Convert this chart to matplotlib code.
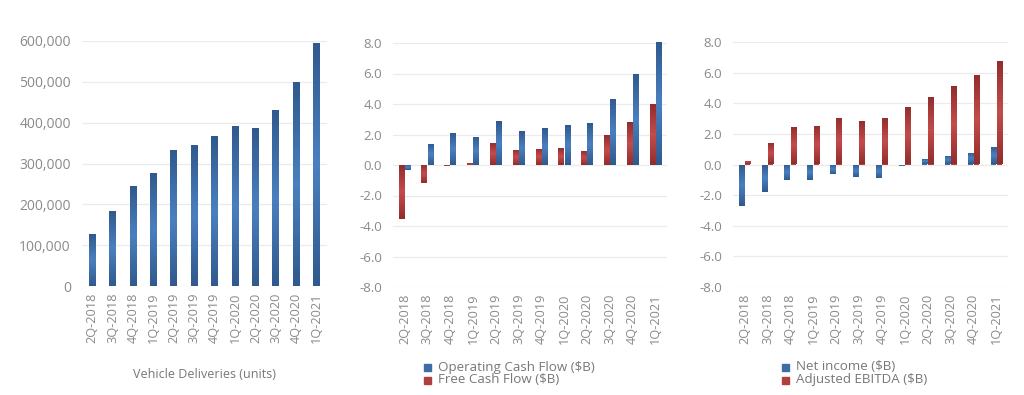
import numpy as np
import matplotlib
matplotlib.use("Agg")
import matplotlib.pyplot as plt
from matplotlib.colors import LinearSegmentedColormap
from matplotlib.ticker import FuncFormatter

quarters = ["2Q-2018", "3Q-2018", "4Q-2018", "1Q-2019", "2Q-2019", "3Q-2019",
            "4Q-2019", "1Q-2020", "2Q-2020", "3Q-2020", "4Q-2020", "1Q-2021"]

# trailing twelve months
deliveries = [126740, 184090, 244920, 277940, 332400, 345900,
              367200, 392600, 388050, 430350, 499550, 595320]
operating_cf = [-0.33, 1.38, 2.09, 1.85, 2.86, 2.22, 2.42, 2.60, 2.73, 4.35, 5.98, 8.04]
free_cf = [-3.51, -1.21, -0.05, 0.10, 1.47, 0.99, 1.08, 1.10, 0.92, 1.95, 2.79, 3.98]
net_income = [-2.70, -1.78, -0.98, -0.98, -0.65, -0.81, -0.85, -0.12, 0.39, 0.56, 0.74, 1.15]
adj_ebitda = [0.26, 1.43, 2.43, 2.54, 3.02, 2.87, 3.02, 3.78, 4.43, 5.15, 5.82, 6.74]

BLUE = "#3d6ca6"
RED = "#b0403f"
blue_cmap = LinearSegmentedColormap.from_list("b", ["#305a8e", "#4a80c0", "#305a8e"])
red_cmap = LinearSegmentedColormap.from_list("r", ["#922d2d", "#c44c4b", "#922d2d"])
GRAY = "#8a8a8a"
FONT = "Open Sans"

plt.rcParams["font.family"] = [FONT, "DejaVu Sans"]


def gradient_bars(ax, x, heights, width, cmap, color):
    bars = ax.bar(x, heights, width, color=color, zorder=2)
    grad = np.linspace(0, 1, 64).reshape(-1, 1)
    for b in bars:
        x0, y0 = b.get_x(), b.get_y()
        w, h = b.get_width(), b.get_height()
        if h == 0:
            continue
        im = ax.imshow(grad, cmap=cmap, aspect="auto", zorder=3,
                       extent=(x0, x0 + w, min(y0, y0 + h), max(y0, y0 + h)))
        im.set_clip_path(b)
    return bars


def style(ax):
    for s in ax.spines.values():
        s.set_visible(False)
    ax.grid(axis="y", color="#ebebeb", linewidth=0.9, zorder=0)
    ax.set_axisbelow(True)
    ax.tick_params(length=0, colors=GRAY, labelsize=9.5)
    ax.tick_params(axis="x", rotation=90, pad=5, labelsize=9.2)
    ax.tick_params(axis="y", pad=8)
    ax.set_xlim(-0.5, len(quarters) - 0.5)
    ax.set_xticks(range(len(quarters)))
    ax.set_xticklabels(quarters)


W, H = 1024, 395
fig = plt.figure(figsize=(W / 100, H / 100), dpi=100)


def axes_px(l, r, t, b):
    return fig.add_axes([l / W, 1 - b / H, (r - l) / W, (b - t) / H])


x = np.arange(len(quarters))

ax1 = axes_px(82, 327, 41, 286)
gradient_bars(ax1, x, deliveries, 0.34, blue_cmap, BLUE)
style(ax1)
ax1.set_ylim(0, 600000)
ax1.set_yticks(range(0, 600001, 100000))
ax1.yaxis.set_major_formatter(FuncFormatter(lambda v, p: f"{int(v):,}"))
ax1.tick_params(axis="y", labelsize=10)
fig.text(204 / W, 1 - 375 / H, "Vehicle Deliveries (units)", ha="center",
         va="center", color="#777777", fontsize=9)

off, bw = 0.135, 0.24

ax2 = axes_px(393, 667, 43, 287)
gradient_bars(ax2, x + off, operating_cf, bw, blue_cmap, BLUE)
gradient_bars(ax2, x - off, free_cf, bw, red_cmap, RED)
style(ax2)
ax2.set_ylim(-8, 8)
ax2.set_yticks(np.arange(-8, 8.1, 2))
ax2.yaxis.set_major_formatter(FuncFormatter(lambda v, p: f"{v:.1f}"))

ax3 = axes_px(733, 1008, 42, 287)
gradient_bars(ax3, x - off, net_income, bw, blue_cmap, BLUE)
gradient_bars(ax3, x + off, adj_ebitda, bw, red_cmap, RED)
style(ax3)
ax3.set_ylim(-8, 8)
ax3.set_yticks(np.arange(-8, 8.1, 2))
ax3.yaxis.set_major_formatter(FuncFormatter(lambda v, p: f"{v:.1f}"))


def legend_rows(x0, y0, labels, colors):
    for i, (lab, c) in enumerate(zip(labels, colors)):
        y = y0 + i * 12.5
        fig.patches.append(plt.Rectangle((x0 / W, 1 - (y + 4) / H), 7 / W, 7 / H,
                                         transform=fig.transFigure, color=c))
        fig.text((x0 + 14) / W, 1 - y / H, lab, va="center", ha="left",
                 color="#777777", fontsize=9.6)


legend_rows(424, 367, ["Operating Cash Flow ($B)", "Free Cash Flow ($B)"], [BLUE, RED])
legend_rows(782, 367, ["Net income ($B)", "Adjusted EBITDA ($B)"], [BLUE, RED])

fig.savefig("out.png", dpi=100)
